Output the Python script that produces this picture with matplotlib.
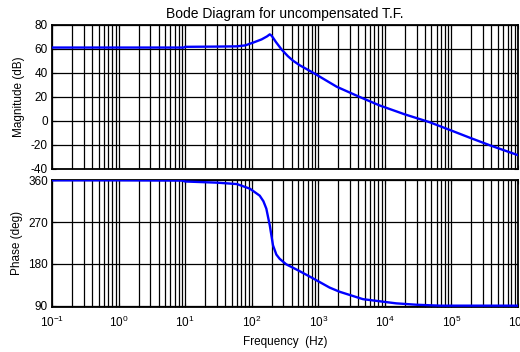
import matplotlib
matplotlib.use("Agg")
import matplotlib.pyplot as plt
from matplotlib.ticker import LogLocator, NullFormatter, FixedLocator

plt.rcParams['font.family'] = ['Liberation Sans', 'DejaVu Sans']
plt.rcParams['mathtext.fontset'] = 'custom'
plt.rcParams['mathtext.rm'] = 'Liberation Sans'
plt.rcParams['mathtext.it'] = 'Liberation Sans'
plt.rcParams['axes.unicode_minus'] = False

# Magnitude data (Hz, dB)
mag_freq = [0.1, 1, 9.5, 10, 30, 60, 80, 105, 141, 170, 187, 200, 230, 282, 350, 417, 525,
            850, 1900, 4000, 8300, 20000, 47000, 95000, 190000, 380000, 1000000]
mag_db = [61.2, 61.2, 61.2, 61.8, 62.0, 62.2, 63.0, 65.3, 68.0, 70.5, 72.2, 71.0, 66.0, 59.5, 54.0,
          50.3, 46.5, 40.0, 28.5, 20.5, 13.0, 5.5, -1.0, -7.5, -14.0, -20.3, -28.5]

# Phase data (Hz, deg)
ph_freq = [0.1, 1, 9, 10, 30, 60, 94, 132, 150, 166, 187, 209, 235, 263, 331, 500, 831,
           1480, 2090, 4700, 14800, 30000, 67000, 1000000]
ph_deg = [360, 360, 359.5, 357.5, 355, 352, 342, 327, 315, 299, 263, 220, 200, 191, 179, 166, 149,
          129, 120, 104, 95, 92, 90, 90]

x_ticks = [1e-1, 1e0, 1e1, 1e2, 1e3, 1e4, 1e5, 1e6]
x_labels = [r'$10^{-1}$', r'$10^{0}$', r'$10^{1}$', r'$10^{2}$', r'$10^{3}$', r'$10^{4}$',
            r'$10^{5}$', r'$10^{6}$']
mag_ticks = [-40, -20, 0, 20, 40, 60, 80]
ph_ticks = [90, 180, 270, 360]

fig = plt.figure(figsize=(5.2, 3.52), dpi=100)
ax1 = fig.add_axes([0.100, 0.520, 0.896, 0.409])
ax2 = fig.add_axes([0.100, 0.129, 0.896, 0.360])

for ax in (ax1, ax2):
    ax.set_xscale('log')
    ax.set_xlim(1e-1, 1e6)
    ax.xaxis.set_major_locator(FixedLocator(x_ticks))
    ax.xaxis.set_minor_locator(LogLocator(base=10, subs=range(2, 10), numticks=20))
    ax.xaxis.set_minor_formatter(NullFormatter())
    ax.grid(True, which='major', color='black', linewidth=0.9)
    ax.grid(True, which='minor', axis='x', color='black', linewidth=0.9)
    ax.tick_params(which='both', direction='in', top=True, right=True, labelsize=8.5, pad=3)
    ax.tick_params(axis='x', pad=6)
    ax.tick_params(which='major', length=3)
    ax.tick_params(which='minor', length=2)
    for s in ax.spines.values():
        s.set_linewidth(1.3)
    ax.set_axisbelow(True)

ax1.plot(mag_freq, mag_db, color='#0000ff', linewidth=1.7, zorder=3)
ax1.set_ylim(-40, 80)
ax1.set_yticks(mag_ticks)
ax1.set_xticklabels([])
ax1.set_ylabel('Magnitude (dB)', fontsize=8.5, labelpad=4)
ax1.set_title('Bode Diagram for uncompensated T.F.', fontsize=10, pad=5)

ax2.plot(ph_freq, ph_deg, color='#0000ff', linewidth=1.7, zorder=3)
ax2.set_ylim(88, 361)
ax2.set_yticks(ph_ticks)
ax2.set_xticklabels(x_labels)
ax2.set_ylabel('Phase (deg)', fontsize=8.5, labelpad=4)
ax2.set_xlabel('Frequency  (Hz)', fontsize=8.5, labelpad=4)

fig.savefig('out.png', dpi=100)
